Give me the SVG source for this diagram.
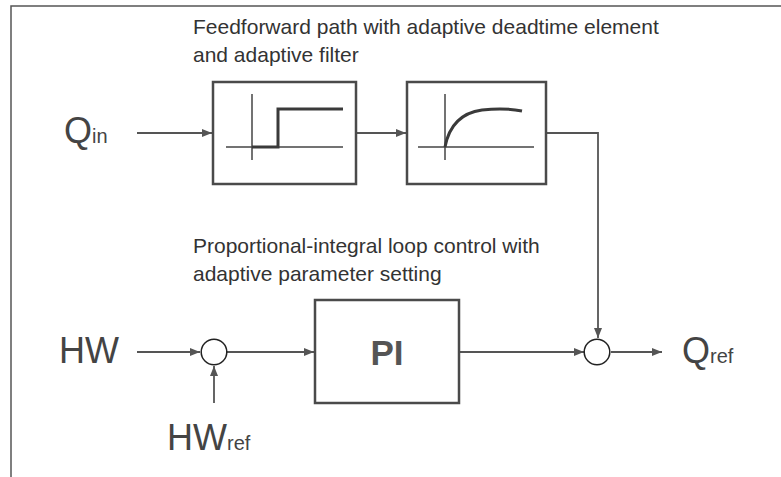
<svg xmlns="http://www.w3.org/2000/svg" width="781" height="477" viewBox="0 0 781 477">
  <defs>
    <marker id="ah" viewBox="0 0 10 8" refX="10" refY="4" markerWidth="10" markerHeight="8" markerUnits="userSpaceOnUse" orient="auto">
      <path d="M0,0 L10,4 L0,8 z" fill="#555"/>
    </marker>
    <style>
      .frame { fill: none; stroke: #555; stroke-width: 1.5; }
      .box { fill: #fff; stroke: #4a4a4a; stroke-width: 2.5; }
      .sum { fill: #fff; stroke: #222; stroke-width: 1.5; }
      .conn { fill: none; stroke: #555; stroke-width: 1.8; }
      .axis { fill: none; stroke: #444; stroke-width: 1.5; }
      .sig { fill: none; stroke: #3a3a3a; stroke-width: 3; stroke-linejoin: miter; }
      .cap { font-family: "Liberation Sans", Arial, sans-serif; font-size: 21px; fill: #333; }
      .lbl { font-family: "Liberation Sans", Arial, sans-serif; font-size: 36px; fill: #444; }
      .sub { font-size: 20px; }
      .pi { font-family: "Liberation Sans", Arial, sans-serif; font-size: 35px; font-weight: bold; fill: #555; }
    </style>
  </defs>
  <rect width="781" height="477" fill="#fff"/>
  <path class="frame" d="M11,477 L11,6 L781,6"/>

  <g id="caption-feedforward">
    <text class="cap" x="193" y="34">Feedforward path with adaptive deadtime element</text>
    <text class="cap" x="193" y="62">and adaptive filter</text>
  </g>
  <g id="caption-pi">
    <text class="cap" x="193" y="253">Proportional-integral loop control with</text>
    <text class="cap" x="193" y="281">adaptive parameter setting</text>
  </g>

  <g id="connectors">
    <line class="conn" x1="137" y1="133" x2="212" y2="133" marker-end="url(#ah)"/>
    <line class="conn" x1="356" y1="133" x2="406" y2="133" marker-end="url(#ah)"/>
    <path class="conn" d="M546,133 L598,133 L598,338" marker-end="url(#ah)"/>
    <line class="conn" x1="137" y1="352" x2="200" y2="352" marker-end="url(#ah)"/>
    <line class="conn" x1="214" y1="403" x2="214" y2="366" marker-end="url(#ah)"/>
    <line class="conn" x1="227" y1="352" x2="314" y2="352" marker-end="url(#ah)"/>
    <line class="conn" x1="459" y1="352" x2="584" y2="352" marker-end="url(#ah)"/>
    <line class="conn" x1="611" y1="352" x2="662" y2="352" marker-end="url(#ah)"/>
  </g>

  <g id="deadtime">
    <rect class="box" x="213" y="82" width="143" height="102"/>
    <line class="axis" x1="252" y1="94" x2="252" y2="160"/>
    <line class="axis" x1="226" y1="147" x2="343" y2="147"/>
    <path class="sig" d="M252,147 L278,147 L278,109 L343,109"/>
  </g>

  <g id="filter">
    <rect class="box" x="407" y="82" width="139" height="102"/>
    <line class="axis" x1="445" y1="94" x2="445" y2="160"/>
    <line class="axis" x1="418" y1="147" x2="534" y2="147"/>
    <path class="sig" d="M445,147 C449,126 460,113 482,110 C500,108 512,109 522,111" stroke-width="2.5"/>
  </g>

  <g id="pi">
    <rect class="box" x="315" y="300" width="144" height="103"/>
    <text class="pi" x="387" y="365" text-anchor="middle">PI</text>
  </g>

  <g id="sum1">
    <circle class="sum" cx="214" cy="352" r="12.8"/>
  </g>
  <g id="sum2">
    <circle class="sum" cx="597" cy="352" r="12.8"/>
  </g>

  <g id="label-qin">
    <text class="lbl" x="64" y="143">Q<tspan class="sub">in</tspan></text>
  </g>
  <g id="label-hw">
    <text class="lbl" x="59" y="363">HW</text>
  </g>
  <g id="label-hwref">
    <text class="lbl" x="167" y="450">HW<tspan class="sub">ref</tspan></text>
  </g>
  <g id="label-qref">
    <text class="lbl" x="682" y="363">Q<tspan class="sub">ref</tspan></text>
  </g>
</svg>
